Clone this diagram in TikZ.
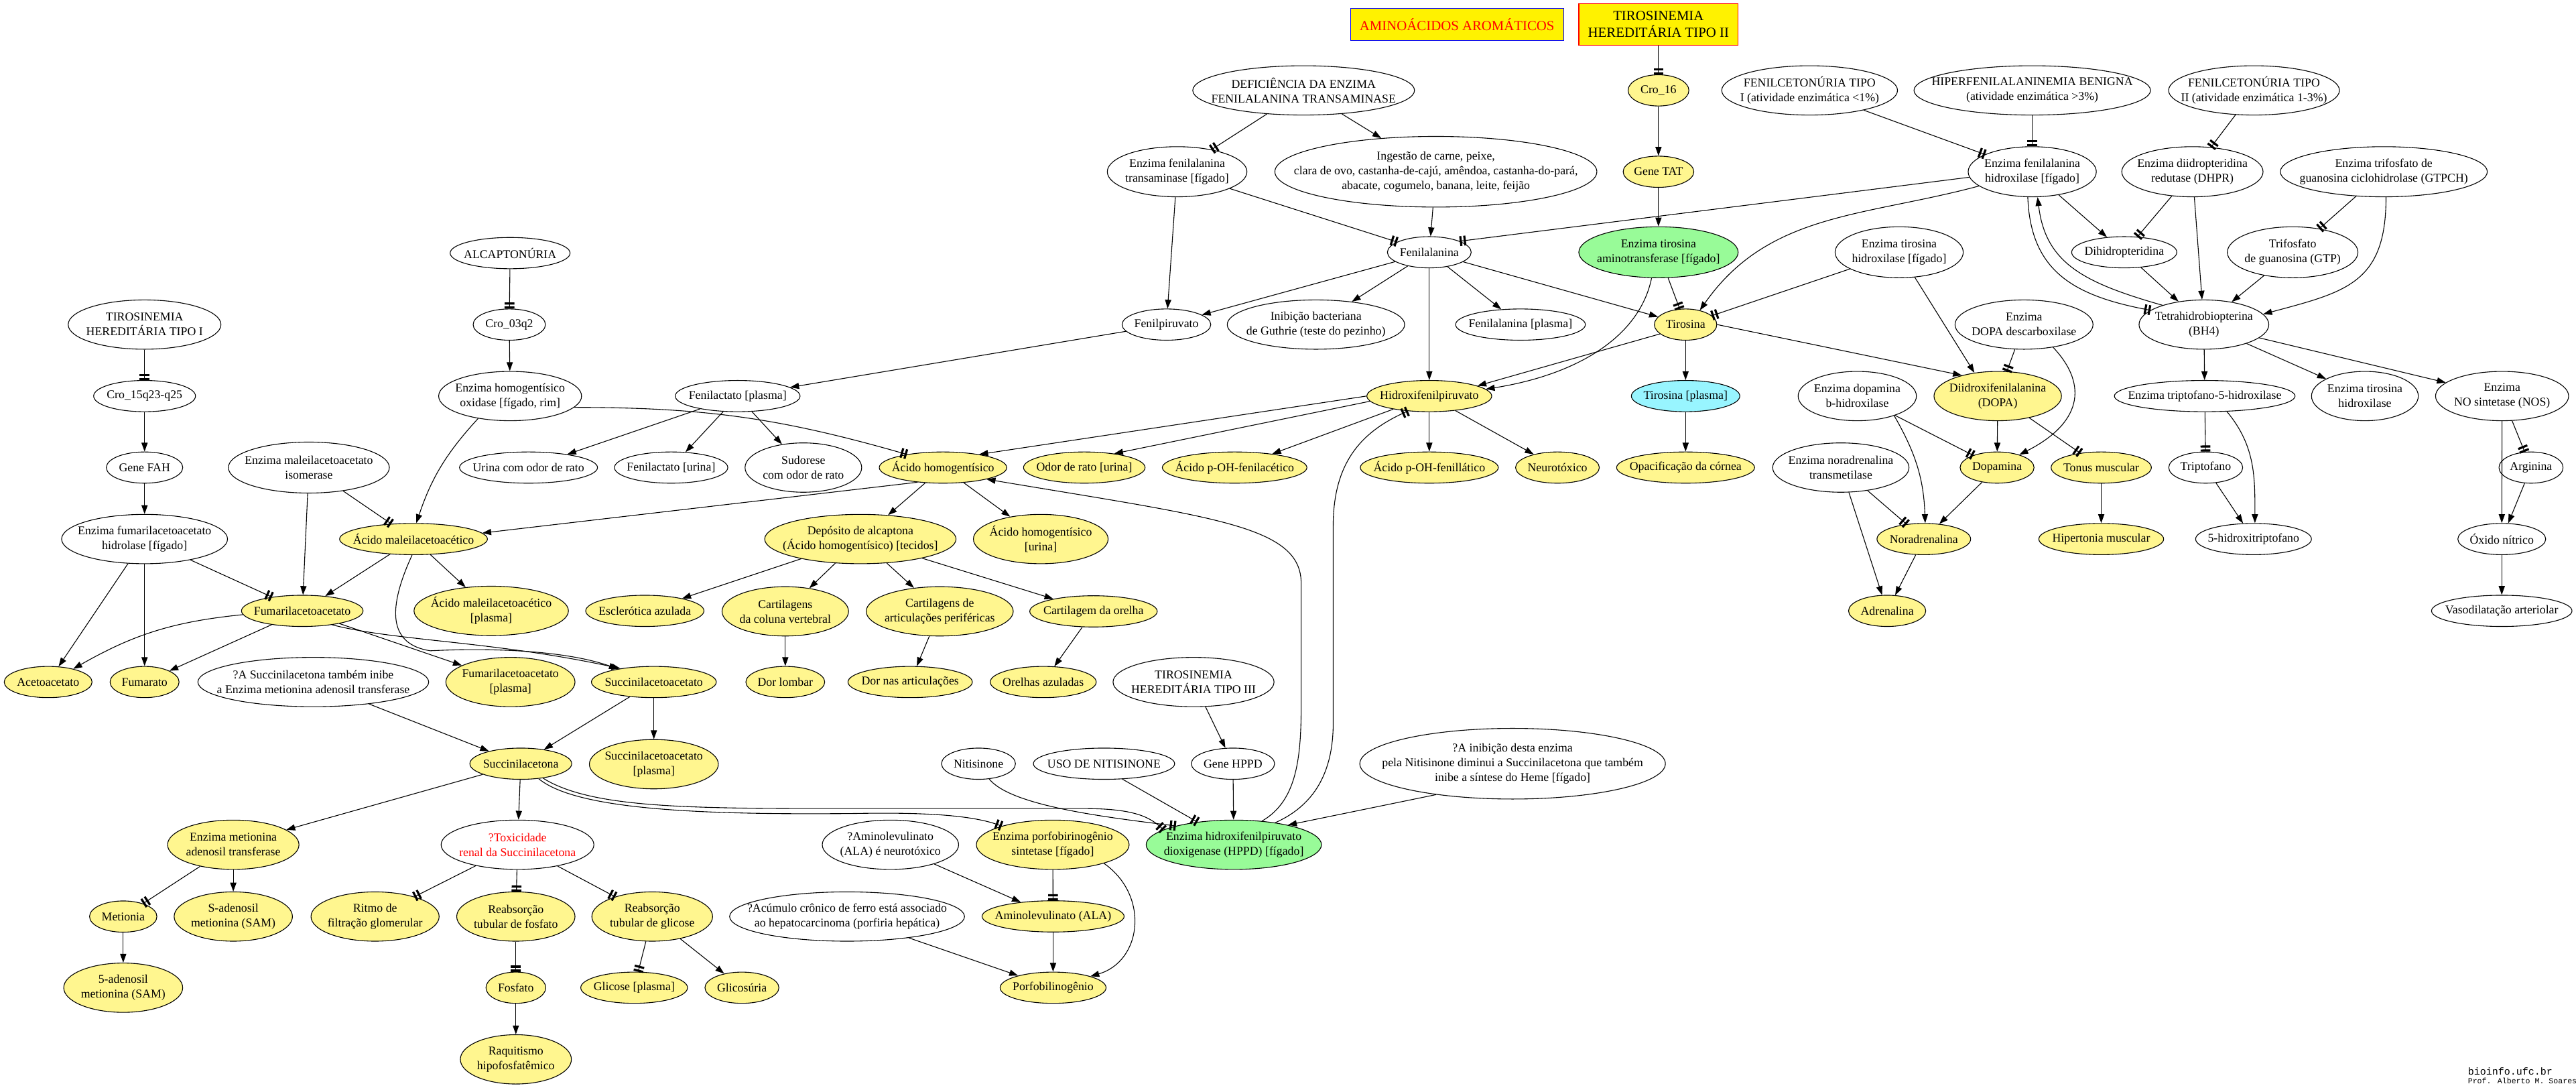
\documentclass[tikz,border=0pt]{standalone}
\usepackage{fontspec}
\setmainfont{Liberation Serif}
\newfontfamily\credfont{Liberation Mono}
\usetikzlibrary{shapes.geometric, arrows.meta}
\definecolor{khaki1}{HTML}{FFF68F}
\definecolor{palegreen}{HTML}{98FB98}
\definecolor{cadetblue1}{HTML}{98F5FF}
\newcommand{\gvfont}{\fontsize{8.9}{11}\selectfont}
\newcommand{\boxfont}{\fontsize{10.4}{12.5}\selectfont}
\tikzstyle{plain} = [ellipse, draw=black, fill=white, inner xsep=-80pt, inner ysep=-40pt, align=center, font=\gvfont]
\tikzstyle{metab} = [plain, fill=khaki1]
\tikzstyle{enzyme} = [plain, fill=palegreen]
\tikzstyle{plasma} = [plain, fill=cadetblue1]
\tikzstyle{banner} = [rectangle, fill=yellow, inner sep=0pt, align=center, font=\boxfont]
\tikzstyle{arrow} = [-{Triangle[length=6.6pt,width=4.6pt]}]
\tikzstyle{block} = [-{Rectangle[length=1.6pt,width=7.3pt,sep=1.4pt]Rectangle[length=1.6pt,width=7.3pt]}]
\tikzset{ellsize/.style 2 args={minimum width=#1*1.2258pt, minimum height=#2*1.2258pt}}

\begin{document}
\begin{tikzpicture}[x=1.2258pt, y=1.2258pt, line width=0.55pt]
        \useasboundingbox (0,0) rectangle (1568,-662);

        % Titles
        \node (arom) [banner, draw=blue, text=red, ellsize={129.7}{19.7}] at (886.9,-15) {AMINOÁCIDOS AROMÁTICOS};
        \node (tyr2) [banner, draw=red, ellsize={97}{25.2}] at (1009.5,-14.8) {TIROSINEMIA\\HEREDITÁRIA TIPO II};

        % Row 1
        \node (deffta) [plain, ellsize={135}{30}] at (793.5,-55) {DEFICIÊNCIA DA ENZIMA\\FENILALANINA TRANSAMINASE};
        \node (cro16) [metab, ellsize={37}{19}] at (1009.5,-55) {Cro\_16};
        \node (pku1) [plain, ellsize={107}{30}] at (1101.5,-55) {FENILCETONÚRIA TIPO\\I (atividade enzimática <1\%)};
        \node (hpa) [plain, ellsize={144}{30}] at (1237,-55) {HIPERFENILALANINEMIA BENIGNA\\(atividade enzimática >3\%)};
        \node (pku2) [plain, ellsize={104}{30}] at (1372,-55) {FENILCETONÚRIA TIPO\\II (atividade enzimática 1-3\%)};

        % Row 2
        \node (enzfta) [plain, ellsize={85}{30.5}] at (716.5,-104.5) {Enzima fenilalanina\\transaminase [fígado]};
        \node (ingest) [plain, ellsize={196}{43}] at (874,-104.5) {Ingestão de carne, peixe,\\clara de ovo, castanha-de-cajú, amêndoa, castanha-do-pará,\\abacate, cogumelo, banana, leite, feijão};
        \node (genetat) [metab, ellsize={43}{19}] at (1009.5,-104.5) {Gene TAT};
        \node (efh) [plain, ellsize={78}{30.5}] at (1237,-104.5) {Enzima fenilalanina\\hidroxilase [fígado]};
        \node (dhpr) [plain, ellsize={86}{30.5}] at (1334.5,-104.5) {Enzima diidropteridina\\redutase (DHPR)};
        \node (gtpch) [plain, ellsize={126}{30.5}] at (1451,-104.5) {Enzima trifosfato de\\guanosina ciclohidrolase (GTPCH)};

        % Row 3
        \node (alk) [plain, ellsize={73}{19}] at (310.5,-154) {ALCAPTONÚRIA};
        \node (fen) [plain, ellsize={51}{19}] at (870,-153.5) {Fenilalanina};
        \node (enztat) [enzyme, ellsize={97}{31}] at (1009.5,-153.5) {Enzima tirosina\\aminotransferase [fígado]};
        \node (eth) [plain, ellsize={78}{31}] at (1156,-153.5) {Enzima tirosina\\hidroxilase [fígado]};
        \node (dhp) [plain, ellsize={64}{19}] at (1293,-153.5) {Dihidropteridina};
        \node (gtp) [plain, ellsize={79.5}{31}] at (1395.5,-153.5) {Trifosfato\\de guanosina (GTP)};

        % Row 4
        \node (tyr1) [plain, ellsize={93}{30}] at (88,-197.5) {TIROSINEMIA\\HEREDITÁRIA TIPO I};
        \node (cro3) [plain, ellsize={44}{19}] at (310,-197.5) {Cro\_03q2};
        \node (fpir) [plain, ellsize={54}{19}] at (710,-197.5) {Fenilpiruvato};
        \node (guthrie) [plain, ellsize={108}{30}] at (801,-197.5) {Inibição bacteriana\\de Guthrie (teste do pezinho)};
        \node (fenpl) [plain, ellsize={79}{19}] at (925.5,-197.5) {Fenilalanina [plasma]};
        \node (tir) [metab, ellsize={38}{19}] at (1026,-197.5) {Tirosina};
        \node (edd) [plain, ellsize={84}{30}] at (1232,-197.5) {Enzima\\DOPA descarboxilase};
        \node (bh4) [plain, ellsize={79}{30}] at (1341.5,-197.5) {Tetrahidrobiopterina\\(BH4)};

        % Row 5
        \node (cro15) [plain, ellsize={62}{19}] at (88,-241) {Cro\_15q23-q25};
        \node (ehgo) [plain, ellsize={87}{30}] at (310.5,-241) {Enzima homogentísico\\oxidase [fígado, rim]};
        \node (flpl) [plain, ellsize={76}{19}] at (449,-241) {Fenilactato [plasma]};
        \node (hpp) [metab, ellsize={76}{19}] at (870,-241) {Hidroxifenilpiruvato};
        \node (tirpl) [plasma, ellsize={66}{19}] at (1026,-241) {Tirosina [plasma]};
        \node (edbh) [plain, ellsize={72}{30}] at (1130.5,-241) {Enzima dopamina\\b-hidroxilase};
        \node (dopa) [metab, ellsize={77.6}{30}] at (1216,-241) {Diidroxifenilalanina\\(DOPA)};
        \node (et5h) [plain, ellsize={110}{19}] at (1342,-241) {Enzima triptofano-5-hidroxilase};
        \node (eth2) [plain, ellsize={65}{30}] at (1439.5,-241) {Enzima tirosina\\hidroxilase};
        \node (nos) [plain, ellsize={81}{30}] at (1523,-241) {Enzima\\NO sintetase (NOS)};

        % Row 6
        \node (fah) [plain, ellsize={46.5}{19}] at (88,-284.5) {Gene FAH};
        \node (emai) [plain, ellsize={98}{31}] at (188,-284.5) {Enzima maleilacetoacetato\\isomerase};
        \node (urodor) [plain, ellsize={84}{19}] at (321.7,-284.5) {Urina com odor de rato};
        \node (flur) [plain, ellsize={69}{19}] at (408.5,-284.5) {Fenilactato [urina]};
        \node (sud) [plain, ellsize={71}{30}] at (489,-284.5) {Sudorese\\com odor de rato};
        \node (aho) [metab, ellsize={77.6}{19}] at (574,-284.5) {Ácido homogentísico};
        \node (odor) [metab, ellsize={74}{19}] at (660,-284.5) {Odor de rato [urina]};
        \node (pohfa) [metab, ellsize={88}{19}] at (751.5,-284.5) {Ácido p-OH-fenilacético};
        \node (pohfl) [metab, ellsize={84}{19}] at (870,-284.5) {Ácido p-OH-fenillático};
        \node (neuro) [metab, ellsize={51}{19}] at (948,-284.5) {Neurotóxico};
        \node (opac) [metab, ellsize={84}{19}] at (1026,-284.5) {Opacificação da córnea};
        \node (enmt) [plain, ellsize={83}{30}] at (1120.5,-284.5) {Enzima noradrenalina\\transmetilase};
        \node (dop) [metab, ellsize={45}{19}] at (1215.6,-284.5) {Dopamina};
        \node (tonus) [metab, ellsize={61}{19}] at (1279,-284.5) {Tonus muscular};
        \node (trp) [plain, ellsize={45}{19}] at (1342.6,-284.5) {Triptofano};
        \node (arg) [plain, ellsize={39}{19}] at (1540.6,-284.5) {Arginina};

        % Row 7
        \node (efah) [plain, ellsize={101}{30}] at (88,-328) {Enzima fumarilacetoacetato\\hidrolase [fígado]};
        \node (mal) [metab, ellsize={90}{19}] at (251.7,-328) {Ácido maleilacetoacético};
        \node (dep) [metab, ellsize={116.5}{30}] at (523.7,-328) {Depósito de alcaptona\\(Ácido homogentísico) [tecidos]};
        \node (ahour) [metab, ellsize={82}{30}] at (633.5,-328) {Ácido homogentísico\\{}[urina]};
        \node (nor) [metab, ellsize={57}{19}] at (1171,-328) {Noradrenalina};
        \node (hiper) [metab, ellsize={76}{19}] at (1279,-328) {Hipertonia muscular};
        \node (htp) [plain, ellsize={70.5}{19}] at (1371.7,-328) {5-hidroxitriptofano};
        \node (nox) [plain, ellsize={53.5}{19}] at (1522.8,-328) {Óxido nítrico};

        % Row 8
        \node (fumac) [metab, ellsize={74}{19}] at (184,-371.7) {Fumarilacetoacetato};
        \node (malpl) [metab, ellsize={94}{30}] at (299,-371.7) {Ácido maleilacetoacético\\{}[plasma]};
        \node (escl) [metab, ellsize={72}{19}] at (392.5,-371.7) {Esclerótica azulada};
        \node (cartcv) [metab, ellsize={77}{30}] at (478,-372) {Cartilagens\\da coluna vertebral};
        \node (cartap) [metab, ellsize={89.5}{30}] at (572,-372) {Cartilagens de\\articulações periféricas};
        \node (cartor) [metab, ellsize={77.6}{19}] at (665.6,-372) {Cartilagem da orelha};
        \node (adr) [metab, ellsize={47}{19}] at (1148.7,-371.7) {Adrenalina};
        \node (vaso) [plain, ellsize={85.5}{19}] at (1522.8,-371.7) {Vasodilatação arteriolar};

        % Row 9
        \node (aceto) [metab, ellsize={53.5}{19}] at (29.3,-415) {Acetoacetato};
        \node (fumar) [metab, ellsize={42}{19}] at (88,-415) {Fumarato};
        \node (notesa) [plain, ellsize={140.5}{30}] at (190.7,-415) {?A Succinilacetona também inibe\\a Enzima metionina adenosil transferase};
        \node (fumpl) [metab, ellsize={78.6}{30}] at (310.7,-415) {Fumarilacetoacetato\\{}[plasma]};
        \node (succac) [metab, ellsize={76}{19}] at (398,-415) {Succinilacetoacetato};
        \node (lomb) [metab, ellsize={48}{19}] at (478,-415) {Dor lombar};
        \node (dorart) [metab, ellsize={75.7}{19}] at (554,-415) {Dor nas articulações};
        \node (orelhas) [metab, ellsize={64.5}{19}] at (635,-415) {Orelhas azuladas};
        \node (tyr3) [plain, ellsize={98}{30}] at (726.5,-415) {TIROSINEMIA\\HEREDITÁRIA TIPO III};

        % Row 10
        \node (scn) [metab, ellsize={62}{19}] at (317,-464.7) {Succinilacetona};
        \node (succpl) [metab, ellsize={78.5}{30}] at (398,-465) {Succinilacetoacetato\\{}[plasma]};
        \node (nit) [plain, ellsize={45}{19}] at (595.6,-464.7) {Nitisinone};
        \node (uso) [plain, ellsize={86}{19}] at (672,-464.7) {USO DE NITISINONE};
        \node (genehppd) [plain, ellsize={50.7}{19}] at (750.5,-464.7) {Gene HPPD};
        \node (noteinib) [plain, ellsize={186}{43}] at (920.7,-464.7) {?A inibição desta enzima\\pela Nitisinone diminui a Succinilacetona que também\\inibe a síntese do Heme [fígado]};

        % Row 11
        \node (emat) [metab, ellsize={80}{30}] at (142,-514) {Enzima metionina\\adenosil transferase};
        \node (tox) [plain, text=red, ellsize={93}{30}] at (315,-514) {?Toxicidade\\renal da Succinilacetona};
        \node (notala) [plain, ellsize={83}{30}] at (542,-514) {?Aminolevulinato\\(ALA) é neurotóxico};
        \node (eps) [metab, ellsize={93}{30}] at (640.8,-514) {Enzima porfobirinogênio\\sintetase [fígado]};
        \node (hppd) [enzyme, ellsize={106.7}{30}] at (751,-514) {Enzima hidroxifenilpiruvato\\dioxigenase (HPPD) [fígado]};

        % Row 12
        \node (met) [metab, ellsize={41}{19}] at (75,-557.7) {Metionia};
        \node (sam) [metab, ellsize={72}{30}] at (142,-557.7) {S-adenosil\\metionina (SAM)};
        \node (ritmo) [metab, ellsize={78}{30}] at (228.3,-557.7) {Ritmo de\\filtração glomerular};
        \node (rfos) [metab, ellsize={72}{30}] at (314,-557.7) {Reabsorção\\tubular de fosfato};
        \node (rgli) [metab, ellsize={73.5}{30}] at (397,-557.7) {Reabsorção\\tubular de glicose};
        \node (notfe) [plain, ellsize={143}{30}] at (515.6,-557.7) {?Acúmulo crônico de ferro está associado\\ao hepatocarcinoma (porfiria hepática)};
        \node (ala) [metab, ellsize={86.5}{19}] at (641,-557.6) {Aminolevulinato (ALA)};

        % Row 13
        \node (sam5) [metab, ellsize={72.4}{30}] at (75,-601) {5-adenosil\\metionina (SAM)};
        \node (fosf) [metab, ellsize={36.4}{19}] at (314,-601) {Fosfato};
        \node (glipl) [metab, ellsize={65}{19}] at (386,-601) {Glicose [plasma]};
        \node (glic) [metab, ellsize={45}{19}] at (451.6,-601) {Glicosúria};
        \node (pbg) [metab, ellsize={64.5}{19}] at (641,-601) {Porfobilinogênio};

        % Row 14
        \node (raq) [metab, ellsize={67.6}{30}] at (314,-644.6) {Raquitismo\\hipofosfatêmico};

        % Credits
        \node (site) [anchor=base west, inner sep=0pt, font=\credfont\fontsize{7.5}{8}\selectfont] at (1502,-654) {bioinfo.ufc.br};
        \node (author) [anchor=base west, inner sep=0pt, font=\credfont\fontsize{5.8}{6}\selectfont] at (1502,-659.5) {Prof. Alberto M. Soares};

        % Tirosina
        \draw [block] (tyr2) -- (cro16);
        \draw [arrow] (cro16) -- (genetat);
        \draw [arrow] (genetat) -- (enztat);
        \draw [block] (enztat) -- (tir);
        \draw [arrow] (enztat.255) .. controls (998,-205) and (960,-228) .. (hpp.7);
        \draw [arrow] (tir.200) -- (hpp.12);
        \draw [arrow] (tir) -- (tirpl);
        \draw [arrow] (tir.east) -- (dopa.150);
        \draw [arrow] (tirpl) -- (opac);
        \draw [block] (eth) -- (tir);

        % Fenilalanina
        \draw [block] (deffta) -- (enzfta);
        \draw [arrow] (deffta) -- (ingest);
        \draw [arrow] (ingest) -- (fen);
        \draw [block] (enzfta) -- (fen);
        \draw [arrow] (enzfta) -- (fpir);
        \draw [arrow] (fen) -- (fpir);
        \draw [arrow] (fen) -- (guthrie);
        \draw [arrow] (fen) -- (fenpl);
        \draw [arrow] (fen) -- (hpp);
        \draw [arrow] (fen) -- (tir);
        \draw [arrow] (fpir) -- (flpl);
        \draw [arrow] (flpl) -- (urodor);
        \draw [arrow] (flpl) -- (flur);
        \draw [arrow] (flpl) -- (sud);

        % Hidroxilase and BH4
        \draw [block] (pku1) -- (efh);
        \draw [block] (hpa) -- (efh);
        \draw [block] (pku2) -- (dhpr);
        \draw [block] (efh.185) -- (fen.20);
        \draw [arrow] (efh.195) to[out=195,in=55] (tir.45);
        \draw [arrow] (efh) -- (dhp);
        \draw [block] (dhpr) -- (dhp);
        \draw [arrow] (dhpr) -- (bh4);
        \draw [arrow] (dhp) -- (bh4);
        \draw [block] (gtpch) -- (gtp);
        \draw [arrow] (gtp) -- (bh4);
        \draw [arrow] (gtpch.-85) to[out=-90,in=15,looseness=1.3] (bh4.10);
        \draw [block] (efh.-100) .. controls (1236,-165) and (1262,-180) .. (bh4.165);
        \draw [arrow] (bh4.155) .. controls (1268,-172) and (1245,-160) .. (efh.-78);
        \draw [arrow] (bh4) -- (et5h);
        \draw [arrow] (bh4) -- (eth2);
        \draw [arrow] (bh4) -- (nos);
        \draw [block] (et5h) -- (trp);
        \draw [arrow] (et5h.-35) to[out=-50,in=90] (htp.85);
        \draw [arrow] (trp) -- (htp);
        \draw [block] (nos) -- (arg);
        \draw [arrow] (nos) -- (nox);
        \draw [arrow] (arg) -- (nox);
        \draw [arrow] (nox) -- (vaso);

        % Dopamina
        \draw [arrow] (eth) -- (dopa.135);
        \draw [block] (edd) -- (dopa);
        \draw [arrow] (edd.-38) .. controls (1272,-235) and (1266,-258) .. (dop.30);
        \draw [arrow] (dopa) -- (dop);
        \draw [block] (dopa) -- (tonus);
        \draw [arrow] (tonus) -- (hiper);
        \draw [block] (edbh) -- (dop);
        \draw [arrow] (edbh.-28) to[out=-60,in=92] (nor.85);
        \draw [arrow] (dop) -- (nor);
        \draw [block] (enmt) -- (nor);
        \draw [arrow] (enmt) -- (adr);
        \draw [arrow] (nor) -- (adr);

        % Hidroxifenilpiruvato
        \draw [arrow] (hpp.180) -- (aho.20);
        \draw [arrow] (hpp.185) -- (odor.25);
        \draw [arrow] (hpp.200) -- (pohfa.20);
        \draw [arrow] (hpp) -- (pohfl);
        \draw [arrow] (hpp) -- (neuro);

        % Alcaptonuria
        \draw [block] (alk) -- (cro3);
        \draw [arrow] (cro3) -- (ehgo);
        \draw [block] (ehgo.-10) to[bend left=8] (aho.160);
        \draw [arrow] (ehgo.215) to[bend right=12] (mal.80);
        \draw [arrow] (aho.210) -- (mal.5);
        \draw [arrow] (aho) -- (dep);
        \draw [arrow] (aho) -- (ahour);
        \draw [arrow] (dep) -- (escl);
        \draw [arrow] (dep) -- (cartcv);
        \draw [arrow] (dep) -- (cartap);
        \draw [arrow] (dep) -- (cartor);
        \draw [arrow] (cartcv) -- (lomb);
        \draw [arrow] (cartap) -- (dorart);
        \draw [arrow] (cartor) -- (orelhas);

        % Tirosinemia tipo I
        \draw [block] (tyr1) -- (cro15);
        \draw [arrow] (cro15) -- (fah);
        \draw [arrow] (fah) -- (efah);
        \draw [block] (emai) -- (mal);
        \draw [arrow] (emai) -- (fumac);
        \draw [arrow] (mal) -- (fumac);
        \draw [arrow] (mal) -- (malpl);
        \draw [arrow] (mal.-95) .. controls (236,-370) and (236,-392) .. (262,-396) .. controls (300,-394) and (345,-396) .. (succac.160);
        \draw [block] (efah) -- (fumac);
        \draw [arrow] (efah) -- (aceto);
        \draw [arrow] (efah) -- (fumar);
        \draw [arrow] (fumac) to[bend right=12] (aceto);
        \draw [arrow] (fumac) -- (fumar);
        \draw [arrow] (fumac) -- (fumpl);
        \draw [arrow] (fumac.-25) .. controls (240,-390) and (300,-390) .. (succac.158);
        \draw [arrow] (succac) -- (succpl);
        \draw [arrow] (succac) -- (scn);
        \draw [arrow] (notesa) -- (scn);

        % Succinilacetona
        \draw [arrow] (scn) -- (emat);
        \draw [arrow] (scn) -- (tox);
        \draw [block] (scn.-40) .. controls (350,-492) and (420,-496) .. (520,-495) .. controls (570,-494) and (595,-497) .. (eps.160);
        \draw [block] (scn.-33) .. controls (360,-492) and (420,-492) .. (520,-492) -- (660,-492) .. controls (690,-492) and (700,-497) .. (hppd.168);

        % HPPD
        \draw [block] (nit.-55) .. controls (615,-490) and (670,-497) .. (hppd.162);
        \draw [block] (uso.-40) -- (hppd.148);
        \draw [arrow] (tyr3) -- (genehppd);
        \draw [arrow] (genehppd) -- (hppd);
        \draw [arrow] (noteinib.202) -- (hppd.20);
        \draw [block] (hppd.28) .. controls (800,-490) and (811.5,-470) .. (811.5,-440) -- (811.5,-320) .. controls (811.5,-280) and (830,-262) .. (hpp.215);
        \draw [arrow] (hppd.40) .. controls (788,-488) and (792,-465) .. (792,-430) -- (792,-355) .. controls (792,-320) and (740,-315) .. (aho.-15);

        % Heme
        \draw [block] (eps) -- (ala);
        \draw [arrow] (eps.-20) .. controls (700,-545) and (695,-585) .. (pbg.17);
        \draw [arrow] (notala) -- (ala);
        \draw [arrow] (ala) -- (pbg);
        \draw [arrow] (notfe) -- (pbg);

        % Metionina
        \draw [block] (emat) -- (met);
        \draw [arrow] (emat) -- (sam);
        \draw [arrow] (met) -- (sam5);

        % Toxicidade renal
        \draw [block] (tox) -- (ritmo);
        \draw [block] (tox) -- (rfos);
        \draw [block] (tox) -- (rgli);
        \draw [block] (rfos) -- (fosf);
        \draw [arrow] (fosf) -- (raq);
        \draw [block] (rgli) -- (glipl);
        \draw [arrow] (rgli) -- (glic);
    \end{tikzpicture}
\end{document}
